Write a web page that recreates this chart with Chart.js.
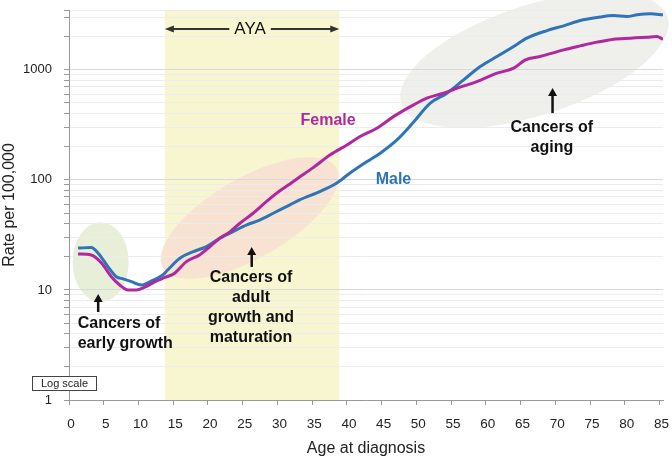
<!DOCTYPE html>
<html>
<head>
<meta charset="utf-8">
<script src="https://cdn.jsdelivr.net/npm/chart.js@4"></script>
<style>
  html, body { margin: 0; padding: 0; background: #fff; }
  #wrap { width: 672px; height: 458px; }
</style>
</head>
<body>
<div id="wrap"><canvas id="c" width="672" height="458"></canvas></div>
<script>
// ---- data ----
const maleAges  = [1.3, 3.2, 4.2, 5.6, 6.8, 7.8, 9.0, 10.4, 11.9, 13.5, 14.2, 16.0, 17.9, 19.8, 21.7, 23.6, 25.6, 27.5, 29.4, 31.8, 33.2, 36.1, 38.5, 40.4, 42.9, 44.8, 47.2, 49.5, 52.0, 54.4, 56.8, 59.2, 61.6, 64.0, 65.9, 68.8, 71.2, 73.6, 76.0, 78.4, 80.3, 81.8, 83.7, 85.5];
const maleRates = [24.0, 24.3, 21.6, 16.3, 13.2, 12.6, 11.9, 11.1, 12.1, 13.7, 15.2, 19.5, 22.3, 24.8, 29.5, 33.9, 39.0, 43.3, 49.8, 59.3, 65.8, 78.3, 93.3, 115, 147, 175, 231, 330, 498, 614, 811, 1072, 1322, 1629, 1941, 2276, 2512, 2807, 2987, 3116, 3053, 3162, 3228, 3162];

const femaleAges  = [1.3, 3.2, 4.7, 6.1, 7.3, 8.5, 9.7, 10.9, 12.4, 13.8, 15.2, 16.9, 18.8, 20.3, 21.7, 23.2, 24.6, 26.5, 28.4, 30.4, 31.8, 32.8, 35.2, 37.6, 40.0, 41.9, 44.3, 46.7, 49.6, 51.5, 53.9, 56.3, 58.7, 61.6, 64.0, 65.7, 67.8, 71.2, 73.6, 76.0, 78.4, 80.8, 83.2, 84.6, 85.5];
const femaleRates = [21.2, 20.8, 17.5, 13.2, 11.1, 10.0, 10.0, 10.6, 11.9, 13.0, 14.2, 18.1, 20.8, 24.8, 29.5, 33.9, 40.4, 49.8, 63.5, 80, 92, 102, 130, 169, 208, 248, 295, 376, 481, 553, 614, 697, 783, 933, 1036, 1233, 1322, 1520, 1652, 1786, 1901, 1941, 1982, 2010, 1901];

const xTicks = [0, 5, 10, 15, 20, 25, 30, 35, 40, 45, 50, 55, 60, 65, 70, 75, 80, 85];
const yTicks = [1,2,3,4,5,6,7,8,9,10,20,30,40,50,60,70,80,90,100,200,300,400,500,600,700,800,900,1000,2000,3000,3500];
const yLabels = [1, 10, 100, 1000];
const ayaRange = [13.8, 38.9];

// ---- annotation layout ----
const ellipses = [
  { x: 4.56, y: 17.9, rx: 28, ry: 40, rot: 0,   color: '#e7efd9' },
  { x: 26.0, y: 45.1, rx: 100, ry: 40, rot: -30, color: '#f8e2d2' },
  { x: 67.0, y: 1229, rx: 140, ry: 55, rot: -18, color: '#efefec' }
];
const notes = [
  { lines: ['Cancers of', 'early growth'], x: 1.25, y: 4.9, align: 'left' },
  { lines: ['Cancers of', 'adult', 'growth and', 'maturation'], x: 26.2, y: 12.9, align: 'center' },
  { lines: ['Cancers of', 'aging'], x: 69.5, y: 296, align: 'center' }
];
const upArrows = [
  { x: 4.2, tip: 9.19, tail: 6.3 },
  { x: 26.3, tip: 24.6, tail: 16.2 },
  { x: 69.6, tip: 684, tail: 405 }
];
const seriesLabels = [
  { text: 'Female', x: 37.3, y: 343, color: '#b0279f' },
  { text: 'Male', x: 46.7, y: 100, color: '#2e74b6' }
];

const FONT = '"Liberation Sans", Arial, Helvetica, sans-serif';

const annot = {
  id: 'annot',
  beforeDraw(chart) {
    const { ctx, chartArea: ca, scales: { x, y } } = chart;
    ctx.save();
    const x0 = x.getPixelForValue(ayaRange[0]);
    const x1 = x.getPixelForValue(ayaRange[1]);
    ctx.fillStyle = '#f7f6d0';
    ctx.fillRect(x0, ca.top, x1 - x0, ca.bottom - ca.top);
    ellipses.forEach(e => {
      ctx.beginPath();
      ctx.ellipse(x.getPixelForValue(e.x), y.getPixelForValue(e.y), e.rx, e.ry, e.rot * Math.PI / 180, 0, Math.PI * 2);
      ctx.fillStyle = e.color;
      ctx.fill();
    });
    ctx.restore();
  },
  afterDraw(chart) {
    const { ctx, chartArea: ca, scales: { x, y } } = chart;
    ctx.save();
    // AYA arrow
    const ax0 = x.getPixelForValue(ayaRange[0]);
    const ax1 = x.getPixelForValue(ayaRange[1]);
    const ay = ca.top + 19;
    const axc = (ax0 + ax1) / 2 - 2;
    ctx.font = '17px ' + FONT;
    ctx.fillStyle = '#111';
    ctx.textAlign = 'center';
    ctx.textBaseline = 'middle';
    ctx.fillText('AYA', axc, ay);
    const tw = ctx.measureText('AYA').width;
    ctx.strokeStyle = '#333';
    ctx.lineWidth = 2;
    ctx.beginPath();
    ctx.moveTo(ax0 + 5, ay); ctx.lineTo(axc - tw / 2 - 5, ay);
    ctx.moveTo(axc + tw / 2 + 5, ay); ctx.lineTo(ax1 - 5, ay);
    ctx.stroke();
    ctx.fillStyle = '#333';
    ctx.beginPath();
    ctx.moveTo(ax0, ay); ctx.lineTo(ax0 + 9, ay - 3.5); ctx.lineTo(ax0 + 9, ay + 3.5); ctx.closePath();
    ctx.moveTo(ax1, ay); ctx.lineTo(ax1 - 9, ay - 3.5); ctx.lineTo(ax1 - 9, ay + 3.5); ctx.closePath();
    ctx.fill();

    // series labels
    ctx.font = 'bold 16px ' + FONT;
    seriesLabels.forEach(s => {
      ctx.fillStyle = s.color;
      ctx.textAlign = 'center';
      ctx.fillText(s.text, x.getPixelForValue(s.x), y.getPixelForValue(s.y));
    });

    // notes
    ctx.fillStyle = '#111';
    notes.forEach(n => {
      ctx.textAlign = n.align;
      const px = x.getPixelForValue(n.x);
      const py = y.getPixelForValue(n.y);
      n.lines.forEach((l, i) => ctx.fillText(l, px, py + i * 20));
    });

    // up arrows
    ctx.strokeStyle = '#111';
    ctx.fillStyle = '#111';
    ctx.lineWidth = 2.5;
    upArrows.forEach(a => {
      const px = x.getPixelForValue(a.x);
      const pt = y.getPixelForValue(a.tip);
      const pb = y.getPixelForValue(a.tail);
      ctx.beginPath();
      ctx.moveTo(px, pb); ctx.lineTo(px, pt + 6);
      ctx.stroke();
      ctx.beginPath();
      ctx.moveTo(px, pt); ctx.lineTo(px - 4.5, pt + 8); ctx.lineTo(px + 4.5, pt + 8); ctx.closePath();
      ctx.fill();
    });

    // Log scale box
    const by = y.getPixelForValue(1) - 24;
    const bx = ca.left - 37;
    ctx.fillStyle = '#fff';
    ctx.fillRect(bx, by, 65, 15);
    ctx.strokeStyle = '#444';
    ctx.lineWidth = 1;
    ctx.strokeRect(bx + 0.5, by + 0.5, 64, 14);
    ctx.fillStyle = '#222';
    ctx.font = '11px ' + FONT;
    ctx.textAlign = 'center';
    ctx.fillText('Log scale', bx + 32.5, by + 8);
    ctx.restore();
  }
};

const toPts = (xs, ys) => xs.map((v, i) => ({ x: v, y: ys[i] }));

new Chart(document.getElementById('c'), {
  type: 'line',
  data: {
    datasets: [
      { label: 'Female', data: toPts(femaleAges, femaleRates), borderColor: '#b0279f', borderWidth: 3, pointRadius: 0, cubicInterpolationMode: 'monotone', fill: false },
      { label: 'Male', data: toPts(maleAges, maleRates), borderColor: '#2e74b6', borderWidth: 3, pointRadius: 0, cubicInterpolationMode: 'monotone', fill: false }
    ]
  },
  options: {
    responsive: false,
    animation: false,
    events: [],
    layout: { padding: { top: 10, right: 9, left: 0, bottom: 0 } },
    plugins: { legend: { display: false }, tooltip: { enabled: false } },
    scales: {
      x: {
        type: 'linear', min: 0, max: 85.5,
        afterFit(s) { s.height = 58; s.paddingLeft = 0; s.paddingRight = 0; },
        afterBuildTicks(s) { s.ticks = xTicks.map(v => ({ value: v })); },
        border: { color: '#999', width: 1 },
        grid: { drawOnChartArea: false, drawTicks: true, tickLength: 5, tickColor: '#999' },
        ticks: { color: '#222', font: { family: FONT, size: 13.5 }, padding: 11, autoSkip: false, maxRotation: 0, labelOffset: 2, callback: v => String(v) },
        title: { display: true, text: 'Age at diagnosis', color: '#222', font: { family: FONT, size: 16 }, padding: { top: 0, bottom: 0 } }
      },
      y: {
        type: 'logarithmic', min: 1, max: 3500,
        afterFit(s) { s.width = 69; s.paddingTop = 0; s.paddingBottom = 0; },
        afterBuildTicks(s) { s.ticks = yTicks.map(v => ({ value: v })); },
        border: { color: '#999', width: 1 },
        grid: {
          color: c => yLabels.includes(c.tick && c.tick.value) ? '#d9d9d9' : '#ececec',
          lineWidth: 1, drawTicks: true, tickLength: 5, tickColor: '#999'
        },
        ticks: { color: '#222', font: { family: FONT, size: 13 }, padding: 12, autoSkip: false, callback: v => yLabels.includes(v) ? String(v) : '' },
        title: { display: true, text: 'Rate per 100,000', color: '#222', font: { family: FONT, size: 16 }, padding: { top: 0, bottom: 0 } }
      }
    }
  },
  plugins: [annot]
});
</script>
</body>
</html>
